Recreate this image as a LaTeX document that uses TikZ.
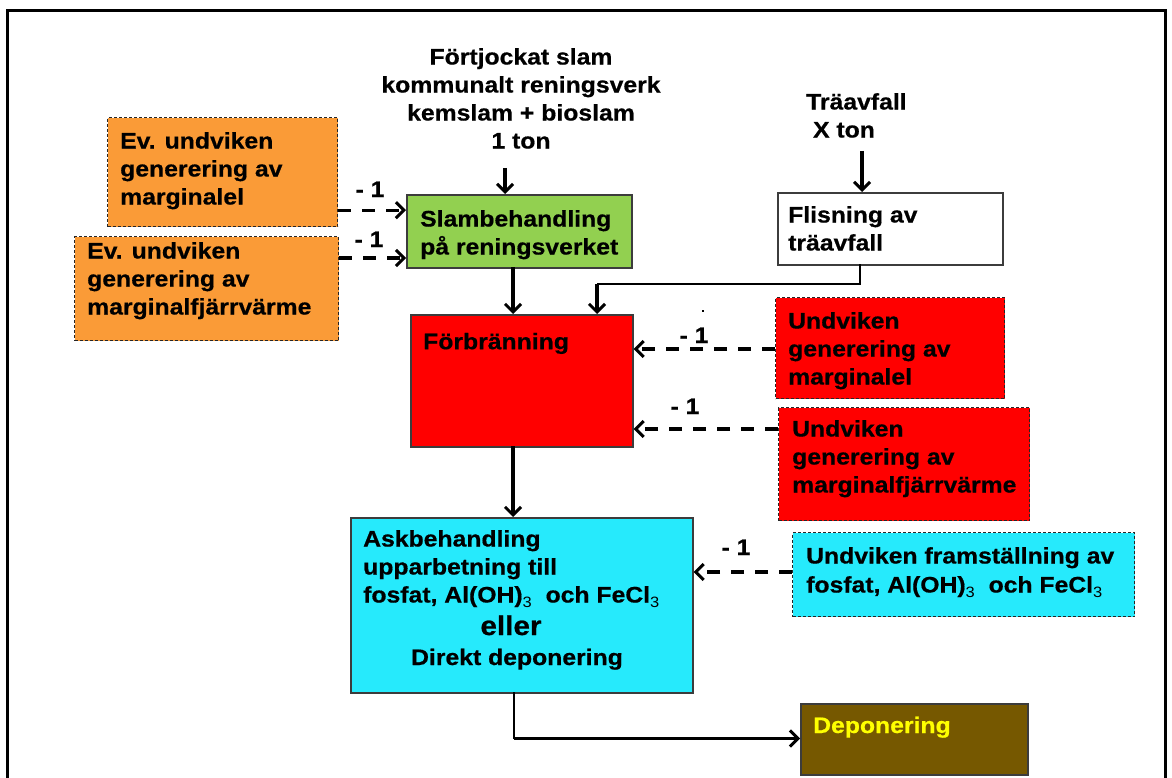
\documentclass[tikz,border=0pt]{standalone}
\usepackage{fontspec}
\setmainfont{Liberation Sans}[FakeStretch=1.1,BoldFeatures={FakeBold=0.6}]
\usetikzlibrary{arrows.meta,calc}
\definecolor{orangefill}{RGB}{250,155,55}
\definecolor{greenfill}{RGB}{146,208,80}
\definecolor{redfill}{RGB}{255,0,0}
\definecolor{cyanfill}{RGB}{38,234,252}
\definecolor{brownfill}{RGB}{118,88,0}
\definecolor{boxline}{RGB}{60,60,60}
\definecolor{yellowtext}{RGB}{255,255,0}
\newcommand{\subthree}{\raisebox{-4.5pt}{\fontsize{15}{15}\selectfont\mdseries 3}}
\begin{document}
\begin{tikzpicture}[x=1pt,y=-1pt,
  solidbox/.style={draw=boxline,line width=1.6pt,rectangle,inner sep=0pt,anchor=north west},
  dashbox/.style={draw=black!85,line width=1.2pt,dash pattern=on 3pt off 2pt,rectangle,inner sep=0pt,anchor=north west},
  txt/.style={inner sep=0pt,align=left,anchor=north west,font=\fontsize{22.5}{28}\selectfont\bfseries,
    execute at begin node={\rule{0pt}{21pt}}},
  ctxt/.style={txt,align=center,anchor=north},
  stxt/.style={inner sep=0pt,font=\fontsize{22.5}{28}\selectfont\bfseries},
  lbl/.style={inner sep=0pt,anchor=base,font=\fontsize{22.5}{28}\selectfont\bfseries},
  flow/.style={line width=3.2pt,-{Straight Barb[length=8pt,width=16pt,line width=3pt]}},
  thinflow/.style={line width=2.2pt},
  dashflow/.style={line width=3.2pt,dash pattern=on 13pt off 11pt,-{Straight Barb[length=8pt,width=16pt,line width=3pt]}}
]
\useasboundingbox (0,0) rectangle (1172,778);
\fill[white] (0,0) rectangle (1172,778);
% outer frame
\draw[line width=3pt] (7,778) -- (7,11) -- (1165,11) -- (1165,778);

% boxes
\node[dashbox,fill=orangefill,minimum width=230pt,minimum height=109pt] (o1) at (107,117) {};
\node[dashbox,fill=orangefill,minimum width=264pt,minimum height=104pt] (o2) at (74,236) {};
\node[solidbox,fill=greenfill,minimum width=225pt,minimum height=73pt] (g) at (406,194) {};
\node[solidbox,fill=white,minimum width=225pt,minimum height=72pt] (fl) at (777,192) {};
\node[solidbox,fill=redfill,minimum width=222pt,minimum height=132pt] (fb) at (410,314) {};
\node[dashbox,fill=redfill,minimum width=229pt,minimum height=101pt] (r1) at (775,297) {};
\node[dashbox,fill=redfill,minimum width=251pt,minimum height=113pt] (r2) at (778,407) {};
\node[solidbox,fill=cyanfill,minimum width=342pt,minimum height=175pt] (ask) at (350,517) {};
\node[dashbox,fill=cyanfill,minimum width=342pt,minimum height=84pt] (cy) at (792,532) {};
\node[solidbox,fill=brownfill,minimum width=227pt,minimum height=71pt] (dep) at (800,703) {};

% texts
\node[ctxt] (toptxt) at (521,48) {Förtjockat slam\\kommunalt reningsverk\\kemslam + bioslam\\1 ton};
\node[txt] (trtxt) at (806,93) {Träavfall\\\ X ton};
\node[txt] (o1t) at (120,132) {Ev. undviken\\generering av\\marginalel};
\node[txt] (o2t) at (87,242) {Ev. undviken\\generering av\\marginalfjärrvärme};
\node[txt] (gt) at (420,210) {Slambehandling\\på reningsverket};
\node[txt] (flt) at (788,206) {Flisning av\\träavfall};
\node[txt] (fbt) at (423,328) {Förbränning};
\node[txt] (r1t) at (788,312) {Undviken\\generering av\\marginalel};
\node[txt] (r2t) at (792,420) {Undviken\\generering av\\marginalfjärrvärme};
\node[txt] (askt) at (363,530) {Askbehandling\\upparbetning till\\fosfat, Al(OH)\subthree\ \ och FeCl\subthree};
\node[stxt,anchor=base,font=\fontsize{27}{30}\selectfont\bfseries] (eller) at (511,635) {eller};
\node[stxt,anchor=base] (direkt) at (517,665) {Direkt deponering};
\node[txt,font=\fontsize{22.5}{29}\selectfont\bfseries] (cyt) at (806,547) {Undviken framställning av\\fosfat, Al(OH)\subthree\ \ och FeCl\subthree};
\node[stxt,anchor=base west,text=yellowtext] (dept) at (813,733) {Deponering};

% labels
\node[lbl] (l1) at (370,197) {- 1};
\node[lbl] (l2) at (369,247) {- 1};
\node[lbl] (l3) at (694,343) {- 1};
\node[lbl] (l4) at (685,414) {- 1};
\node[lbl] (l5) at (736,555) {- 1};
\node[inner sep=0pt,font=\fontsize{12}{12}\selectfont\bfseries] (dot) at (703,311) {.};

% coordinates
\coordinate (ta) at (505,168);
\coordinate (tb) at (862,151);
\coordinate (c1) at (513,267);
\coordinate (c2) at (860,264);
\coordinate (c3) at (597,284);
\coordinate (c4) at (513,446);
\coordinate (c5) at (514,692);
\coordinate (c6) at (514,738.5);
\coordinate (o1a) at ([yshift=17pt]o1.south east);
\coordinate (o2a) at (o2.east |- 0,258);
\coordinate (r1a) at (r1.west |- 0,349);
\coordinate (r2a) at (r2.west |- 0,429);
\coordinate (cya) at (cy.west |- 0,572);

% solid connectors
\draw[flow] (ta) -- (ta |- g.north);
\draw[flow] (tb) -- (tb |- fl.north);
\draw[flow] (c1) -- (c1 |- fb.north);
\draw[thinflow] (c2) |- (c3);
\draw[flow] (c3) -- (c3 |- fb.north);
\draw[flow] (c4) -- (c4 |- ask.north);
\draw[thinflow] (c5) -- (c6);
\draw[flow] (c6) -- (c6 -| dep.west);

% dashed connectors
\draw[dashflow] (o1a) -- (o1a -| g.west);
\draw[dashflow] (o2a) -- (o2a -| g.west);
\draw[dashflow] (r1a) -- (r1a -| fb.east);
\draw[dashflow] (r2a) -- (r2a -| fb.east);
\draw[dashflow] (cya) -- (cya -| ask.east);
\end{tikzpicture}
\end{document}
